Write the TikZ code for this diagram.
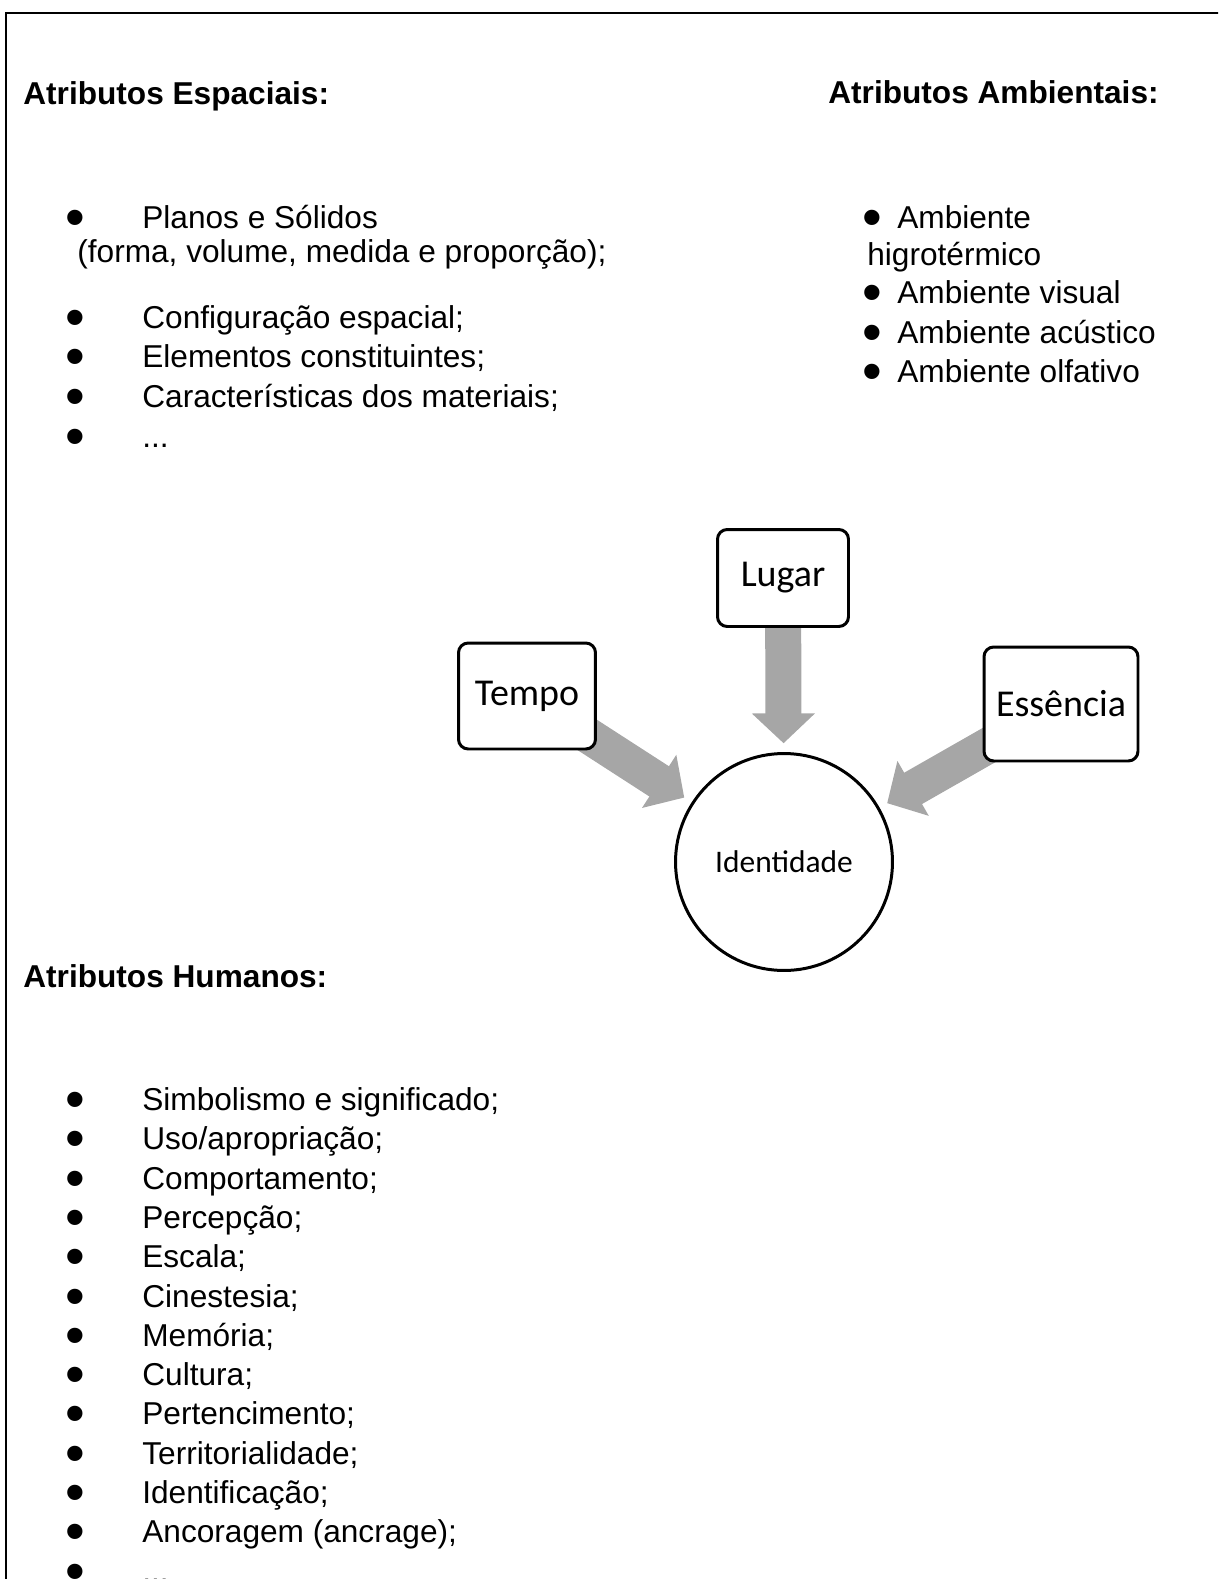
\documentclass[tikz,border=0pt]{standalone}
\usepackage{fontspec}
\setmainfont{Liberation Sans}
\newfontfamily\calibri{Carlito}
\usetikzlibrary{arrows.meta,positioning,backgrounds}
\definecolor{arrowgray}{RGB}{166,166,166}
\newcommand\bul[1]{\makebox[#1][l]{\hspace*{-0.12cm}\smash{\raisebox{-4.6pt}{\fontsize{32}{32}\selectfont•}}}}

\begin{document}
\begin{tikzpicture}[
    x=0.02cm, y=-0.02cm,
    txt/.style={anchor=base west, inner sep=0pt, font=\fontsize{18}{21}\selectfont},
    head/.style={txt, font=\fontsize{18}{21}\selectfont\bfseries},
    box/.style={draw, line width=1.7pt, rounded corners=5.5pt, fill=white, inner sep=0pt, font=\calibri\fontsize{21.6}{24}\selectfont},
    bigarrow/.style={draw=arrowgray, line width=20.5pt, -{Triangle[width=35pt, length=17pt]}, shorten >=5pt},
    >=Stealth
  ]
  \useasboundingbox (0,0) rectangle (1218,1579);
  \clip (0,0) rectangle (1218,1579);
  % frame, cut off at the right and bottom
  \draw[line width=1.4pt] (6,1620) |- (1260,13);

  % headings
  \node[head] (espaciais) at (23,104) {Atributos Espaciais:};
  \node[head] (ambientais) at (828,103) {Atributos Ambientais:};
  \node[head] (humanos) at (23,987) {Atributos Humanos:};

  % spatial attributes
  \node[txt] (planos) at (71,228) {\bul{1.42cm}Planos e Sólidos};
  \node[txt] (forma) at (77,262) {(forma, volume, medida e proporção);};
  \node[txt] (config) at (71,328) {\bul{1.42cm}Configuração espacial;};
  \node[txt] (elem) at (71,367) {\bul{1.42cm}Elementos constituintes;};
  \node[txt] (mater) at (71,407) {\bul{1.42cm}Características dos materiais;};
  \node[txt] (etcA) at (71,447) {\bul{1.42cm}...};

  % environmental attributes
  \node[txt] (higro) at (868,228) {\bul{0.58cm}Ambiente};
  \node[txt] (higroB) at (867,265) {higrotérmico};
  \node[txt] (visual) at (868,303) {\bul{0.58cm}Ambiente visual};
  \node[txt] (acust) at (868,343) {\bul{0.58cm}Ambiente acústico};
  \node[txt] (olfat) at (868,382) {\bul{0.58cm}Ambiente olfativo};

  % human attributes
  \node[txt] (simb) at (71,1110) {\bul{1.42cm}Simbolismo e significado;};
  \node[txt] (uso) at (71,1149) {\bul{1.42cm}Uso/apropriação;};
  \node[txt] (comport) at (71,1189) {\bul{1.42cm}Comportamento;};
  \node[txt] (percep) at (71,1228) {\bul{1.42cm}Percepção;};
  \node[txt] (escala) at (71,1267) {\bul{1.42cm}Escala;};
  \node[txt] (cines) at (71,1307) {\bul{1.42cm}Cinestesia;};
  \node[txt] (memo) at (71,1346) {\bul{1.42cm}Memória;};
  \node[txt] (cult) at (71,1385) {\bul{1.42cm}Cultura;};
  \node[txt] (perten) at (71,1424) {\bul{1.42cm}Pertencimento;};
  \node[txt] (territ) at (71,1464) {\bul{1.42cm}Territorialidade;};
  \node[txt] (identif) at (71,1503) {\bul{1.42cm}Identificação;};
  \node[txt] (ancor) at (71,1542) {\bul{1.42cm}Ancoragem (ancrage);};
  \node[txt] (etcB) at (71,1582) {\bul{1.42cm}...};

  % diagram
  \node[box, minimum width=2.62cm, minimum height=1.94cm] (lugar) at (783,578) {Lugar};
  \node[box, minimum width=2.74cm, minimum height=2.12cm] (tempo) at (527,696) {Tempo};
  \node[box, minimum width=3.08cm, minimum height=2.28cm] (essencia) at (1061,704) {Essência};
  \node[circle, draw, line width=1.7pt, fill=white, minimum size=4.34cm,
        font=\calibri\fontsize{17.9}{20}\selectfont] (ident) at (784,862) {Identidade};

  \begin{scope}[on background layer]
    \draw[bigarrow] (lugar.center) -- (ident);
    \draw[bigarrow] (tempo.center) -- (ident);
    \draw[bigarrow] (essencia.center) -- (ident);
  \end{scope}
\end{tikzpicture}
\end{document}
